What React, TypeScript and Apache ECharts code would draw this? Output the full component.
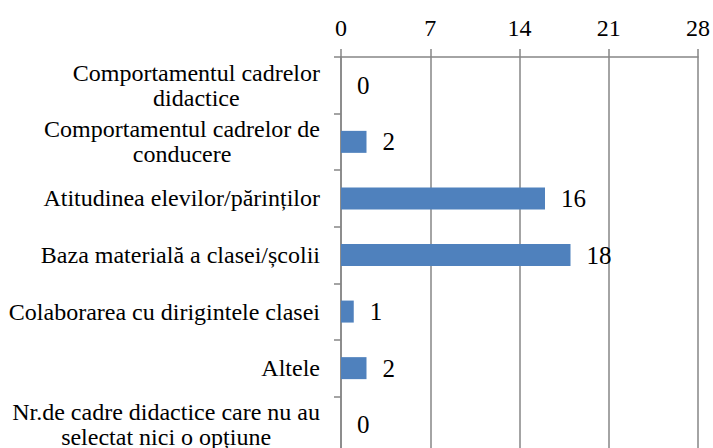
import React, { useEffect, useRef } from "react";
import * as echarts from "echarts";

const categories = [
  "Comportamentul cadrelor\ndidactice",
  "Comportamentul cadrelor de\nconducere",
  "Atitudinea elevilor/părinților",
  "Baza materială a clasei/școlii",
  "Colaborarea cu dirigintele clasei",
  "Altele",
  "Nr.de cadre didactice care nu au\nselectat nici o opțiune",
];
const values = [0, 2, 16, 18, 1, 2, 0];
const xTicks = { min: 0, max: 28, interval: 7 };

const FONT = "Liberation Serif, Times New Roman, serif";

export default function App() {
  const ref = useRef<HTMLDivElement>(null);
  useEffect(() => {
    if (!ref.current) return;
    const chart = echarts.init(ref.current, undefined, { renderer: "svg" });
    chart.setOption({
      animation: false,
      backgroundColor: "#ffffff",
      grid: { left: 341, right: 15, top: 57, bottom: 0, containLabel: false },
      xAxis: {
        type: "value",
        position: "top",
        min: xTicks.min,
        max: xTicks.max,
        interval: xTicks.interval,
        axisLine: { show: true, lineStyle: { color: "#868686", width: 1.5 } },
        axisTick: { show: true, length: 8, lineStyle: { color: "#868686", width: 1.5 } },
        axisLabel: { color: "#000", fontFamily: FONT, fontSize: 24, margin: 17 },
        splitLine: { show: true, lineStyle: { color: "#868686", width: 1.5 } },
      },
      yAxis: {
        type: "category",
        inverse: true,
        data: categories,
        axisLine: { show: true, lineStyle: { color: "#868686", width: 1.5 } },
        axisTick: { show: true, length: 7, lineStyle: { color: "#868686", width: 1.5 } },
        axisLabel: {
          color: "#000",
          fontFamily: FONT,
          fontSize: 24,
          lineHeight: 25,
          margin: 21,
          align: "right",
          formatter: (v: string) =>
            v
              .split("\n")
              .map((line) => "{c|" + line + "}")
              .join("\n"),
          rich: {
            c: {
              align: "center",
              color: "#000",
              fontFamily: FONT,
              fontSize: 24,
              lineHeight: 25,
            },
          },
        },
      },
      series: [
        {
          type: "bar",
          data: values,
          barWidth: 22,
          itemStyle: { color: "#4F81BD" },
          label: {
            show: true,
            position: "right",
            distance: 16,
            color: "#000",
            fontFamily: FONT,
            fontSize: 25,
          },
        },
      ],
    });
    return () => chart.dispose();
  }, []);
  return (
    <div
      ref={ref}
      style={{ position: "fixed", left: 0, top: 0, width: 713, height: 453, overflow: "hidden", background: "#fff" }}
    />
  );
}
